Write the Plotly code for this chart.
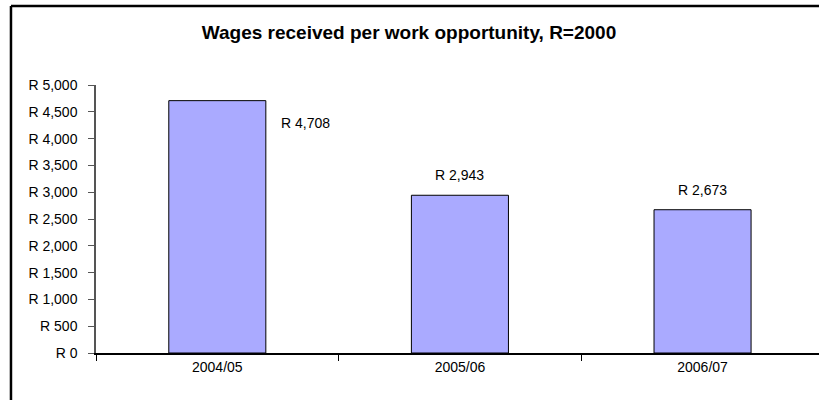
import plotly.graph_objects as go

categories = ["2004/05", "2005/06", "2006/07"]
wages = [4708, 2943, 2673]
label_texts = ["R 4,708", "R 2,943", "R 2,673"]
y_ticks = [0, 500, 1000, 1500, 2000, 2500, 3000, 3500, 4000, 4500, 5000]
y_tick_labels = ["R 0", "R 500", "R 1,000", "R 1,500", "R 2,000", "R 2,500",
                 "R 3,000", "R 3,500", "R 4,000", "R 4,500", "R 5,000"]
title_text = "Wages received per work opportunity, R=2000"

FONT = "Liberation Sans, Arial, sans-serif"

fig = go.Figure()
fig.add_trace(go.Bar(
    x=categories, y=wages,
    marker=dict(color="#AAAAFF", line=dict(color="black", width=1)),
    width=0.4,
    hoverinfo="skip",
))

# value labels (first one sits to the right of its bar, as in the original)
shifts = [(88, -22), (0, 20), (0, 20)]
for c, v, t, (dx, dy) in zip(categories, wages, label_texts, shifts):
    fig.add_annotation(x=c, y=v, text=t, showarrow=False, xshift=dx, yshift=dy,
                       font=dict(family=FONT, size=14, color="black"))

# outer chart frame (left and top edges visible; rest cropped)
frame = dict(color="black", width=2.5)
fig.add_shape(type="line", xref="paper", yref="paper", x0=-0.1176, x1=-0.1176,
              y0=1.2948, y1=-0.4, line=frame)
fig.add_shape(type="line", xref="paper", yref="paper", x0=-0.1176, x1=1.1,
              y0=1.2948, y1=1.2948, line=frame)

fig.update_layout(
    width=819, height=400,
    margin=dict(l=96, r=0, t=85, b=47),
    paper_bgcolor="white", plot_bgcolor="white",
    showlegend=False,
    font=dict(family=FONT, size=14, color="black"),
    title=dict(text="<b>" + title_text + "</b>", x=0.5, xref="paper",
               y=1 - 32 / 400, yanchor="middle", xanchor="center",
               font=dict(family=FONT, size=19, color="black")),
    xaxis=dict(
        type="category", range=[-0.5, 2.48],
        showline=True, linecolor="black", linewidth=1.5,
        ticks="outside", tickson="boundaries", ticklen=6, tickcolor="black",
        showgrid=False, zeroline=False,
        tickfont=dict(family=FONT, size=14, color="black"),
    ),
    yaxis=dict(
        range=[0, 5000], tickvals=y_ticks, ticktext=y_tick_labels,
        showline=True, linecolor="#555555", linewidth=1.5,
        ticks="outside", ticklen=6, tickcolor="#555555",
        showgrid=False, zeroline=False,
        tickfont=dict(family=FONT, size=14, color="black"),
        ticklabelstandoff=8,
    ),
)
# center title over pixel x~409
fig.layout.title.x = (409 - 96) / 723

fig.write_html("out.html")
